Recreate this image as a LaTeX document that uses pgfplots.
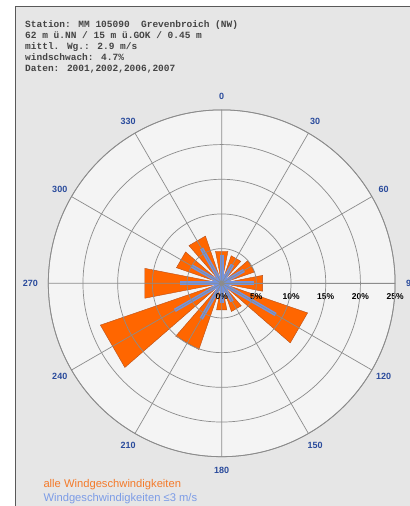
\documentclass[border=0pt]{standalone}
\usepackage{pgfplots}
\pgfplotsset{compat=1.18}
\usepgfplotslibrary{polar}
\usepackage{fontspec}
\setmainfont{Liberation Sans}
\newfontfamily\monofont{Liberation Mono}
\definecolor{bg}{HTML}{E6E6E6}
\definecolor{disc}{HTML}{F4F4F4}
\definecolor{gridgray}{HTML}{8C8C8C}
\definecolor{barorange}{HTML}{FF6600}
\definecolor{baredge}{HTML}{B8501A}
\definecolor{barblue}{HTML}{7393E0}
\definecolor{lblblue}{HTML}{2A4B9C}
\definecolor{txtorange}{HTML}{F47A2A}
\definecolor{txtblue}{HTML}{7C9CE6}
\definecolor{hdr}{HTML}{444444}
\begin{document}
\begin{tikzpicture}
\useasboundingbox (0,0) rectangle (410bp,506bp);
\clip (0,0) rectangle (410bp,506bp);
\fill[white] (0,0) rectangle (410bp,506bp);
\fill[bg] (15bp,0) rectangle (410bp,500bp);
\draw[draw=black!65, line width=0.9bp] (15bp,0) -- (15bp,500bp) -- (410bp,500bp);
\fill[disc] (221.7bp,222.7bp) circle (173.4bp);
\begin{polaraxis}[
  at={(221.7bp,222.7bp)}, anchor=origin,
  scale only axis, width=346.8bp, height=346.8bp,
  ymin=0, ymax=25,
  xtick={0,30,...,330}, ytick={5,10,15,20,25},
  xticklabel={\mbox{}}, yticklabel={\mbox{}},
  major tick length=0pt,
  grid=major,
  major grid style={draw=gridgray, line width=0.7bp},
  axis line style={draw=gridgray, line width=0.8bp},
  axis on top, clip=false,
]
% alle Windgeschwindigkeiten (bearing -> math angle 90-bearing), half width 11 deg
\addplot[fill=barorange, draw=baredge, line width=0.4bp] coordinates {(0,0) (79,4.7) (101,4.7)} -- cycle;   % 0
\addplot[fill=barorange, draw=baredge, line width=0.4bp] coordinates {(0,0) (49,4.2) (71,4.2)} -- cycle;    % 30
\addplot[fill=barorange, draw=baredge, line width=0.4bp] coordinates {(0,0) (19,5.0) (41,5.0)} -- cycle;    % 60
\addplot[fill=barorange, draw=baredge, line width=0.4bp] coordinates {(0,0) (-11,6.0) (11,6.0)} -- cycle;   % 90
\addplot[fill=barorange, draw=baredge, line width=0.4bp] coordinates {(0,0) (-41,13.1) (-19,13.1)} -- cycle; % 120
\addplot[fill=barorange, draw=baredge, line width=0.4bp] coordinates {(0,0) (-71,4.3) (-49,4.3)} -- cycle;  % 150
\addplot[fill=barorange, draw=baredge, line width=0.4bp] coordinates {(0,0) (-101,3.9) (-79,3.9)} -- cycle; % 180
\addplot[fill=barorange, draw=baredge, line width=0.4bp] coordinates {(0,0) (-131,10.1) (-109,10.1)} -- cycle; % 210
\addplot[fill=barorange, draw=baredge, line width=0.4bp] coordinates {(0,0) (-161,18.5) (-139,18.5)} -- cycle; % 240
\addplot[fill=barorange, draw=baredge, line width=0.4bp] coordinates {(0,0) (169,11.3) (191,11.3)} -- cycle; % 270
\addplot[fill=barorange, draw=baredge, line width=0.4bp] coordinates {(0,0) (139,6.9) (161,6.9)} -- cycle;  % 300
\addplot[fill=barorange, draw=baredge, line width=0.4bp] coordinates {(0,0) (109,7.2) (131,7.2)} -- cycle;  % 330
% Windgeschwindigkeiten <= 3 m/s
\addplot[draw=barblue, line width=3.6bp] coordinates {(90,0) (90,4.1)};
\addplot[draw=barblue, line width=3.6bp] coordinates {(60,0) (60,3.1)};
\addplot[draw=barblue, line width=3.6bp] coordinates {(30,0) (30,3.7)};
\addplot[draw=barblue, line width=3.6bp] coordinates {(0,0) (0,4.7)};
\addplot[draw=barblue, line width=3.6bp] coordinates {(-30,0) (-30,9.0)};
\addplot[draw=barblue, line width=3.6bp] coordinates {(-60,0) (-60,3.0)};
\addplot[draw=barblue, line width=3.6bp] coordinates {(-90,0) (-90,2.8)};
\addplot[draw=barblue, line width=3.6bp] coordinates {(-120,0) (-120,5.9)};
\addplot[draw=barblue, line width=3.6bp] coordinates {(-150,0) (-150,7.8)};
\addplot[draw=barblue, line width=3.6bp] coordinates {(180,0) (180,6.0)};
\addplot[draw=barblue, line width=3.6bp] coordinates {(150,0) (150,5.0)};
\addplot[draw=barblue, line width=3.6bp] coordinates {(120,0) (120,5.8)};
% angle labels
\begin{scope}[every node/.style={text=lblblue, font=\bfseries\fontsize{9bp}{10bp}\selectfont, inner sep=0pt}]
\node at (axis cs:90,26.96) {0};
\node at (axis cs:60,26.96) {30};
\node at (axis cs:30,26.96) {60};
\node at (axis cs:0,27.32) {90};
\node at (axis cs:-30,26.96) {120};
\node at (axis cs:-60,26.96) {150};
\node at (axis cs:-90,26.96) {180};
\node at (axis cs:-120,26.96) {210};
\node at (axis cs:-150,26.96) {240};
\node at (axis cs:180,27.6) {270};
\node at (axis cs:150,26.96) {300};
\node at (axis cs:120,26.96) {330};
\end{scope}
% radial labels
\begin{scope}[every node/.style={text=black, font=\bfseries\fontsize{8.5bp}{10bp}\selectfont, inner sep=0pt, yshift=-13.4bp}]
\node at (axis cs:0,0) {0\%};
\node at (axis cs:0,5) {5\%};
\node at (axis cs:0,10) {10\%};
\node at (axis cs:0,15) {15\%};
\node at (axis cs:0,20) {20\%};
\node at (axis cs:0,25) {25\%};
\end{scope}
\fill[gridgray] (axis cs:0,0) circle (2.5bp);
\end{polaraxis}
% header
\begin{scope}[every node/.style={anchor=base west, inner sep=0pt, text=hdr, font=\monofont\bfseries\fontsize{9.5bp}{11bp}\selectfont}]
\node at (25bp,478.7bp) {Station: MM 105090\ \ Grevenbroich (NW)};
\node at (25bp,467.6bp) {62 m ü.NN / 15 m ü.GOK / 0.45 m};
\node at (25bp,456.5bp) {mittl. Wg.: 2.9 m/s};
\node at (25bp,445.4bp) {windschwach: 4.7\%};
\node at (25bp,434.3bp) {Daten: 2001,2002,2006,2007};
\end{scope}
% legend
\node[anchor=base west, inner sep=0pt, text=txtorange, font=\fontsize{11.2bp}{13bp}\selectfont] at (43.3bp,19bp) {alle Windgeschwindigkeiten};
\node[anchor=base west, inner sep=0pt, text=txtblue, font=\fontsize{11.2bp}{13bp}\selectfont] at (43.3bp,4.5bp) {Windgeschwindigkeiten ≤3 m/s};
\end{tikzpicture}
\end{document}
